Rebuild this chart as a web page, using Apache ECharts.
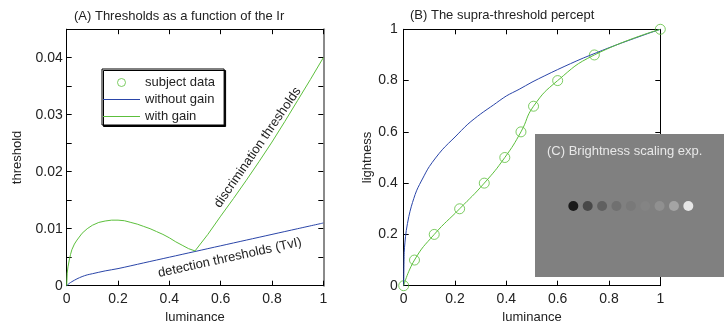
<!DOCTYPE html>
<html>
<head>
<meta charset="utf-8">
<script src="https://cdn.jsdelivr.net/npm/echarts@6/dist/echarts.min.js"></script>
<style>
  html, body { margin: 0; padding: 0; background: #fff; }
  #chart { width: 724px; height: 322px; }
</style>
</head>
<body>
<div id="chart"></div>
<script>
// (A) thresholds vs luminance
const tvlX = [0, 0.01, 0.02, 0.04, 0.06, 0.08, 0.1, 0.15, 0.2, 0.3, 0.4, 0.5, 0.6, 0.7, 0.8, 0.9, 1];
const tvlY = [0, 0.0004, 0.0007, 0.0012, 0.0016, 0.0019, 0.0021, 0.0026, 0.003, 0.004, 0.005, 0.006, 0.007, 0.008, 0.009, 0.01, 0.011];
const gainX = [0, 0.002, 0.005, 0.01, 0.015, 0.02, 0.03, 0.04, 0.06, 0.08, 0.1, 0.125, 0.15, 0.175, 0.2, 0.225, 0.25, 0.275, 0.3, 0.325, 0.35, 0.375, 0.4, 0.425, 0.45, 0.475, 0.5, 0.55, 0.6, 0.65, 0.7, 0.75, 0.8, 0.85, 0.9, 0.95, 1];
const gainY = [0, 0.0022, 0.0033, 0.0045, 0.0055, 0.0063, 0.0073, 0.008, 0.0092, 0.01, 0.0106, 0.0111, 0.01135, 0.0115, 0.0115, 0.0114, 0.0111, 0.0108, 0.0104, 0.01, 0.0095, 0.009, 0.0084, 0.0077, 0.0071, 0.0065, 0.0061, 0.009, 0.0122, 0.0153, 0.0185, 0.0218, 0.0252, 0.0288, 0.0325, 0.0362, 0.04];

// (B) lightness vs luminance
const noGainX = [0, 0.002, 0.005, 0.01, 0.02, 0.03, 0.05, 0.075, 0.1, 0.15, 0.2, 0.25, 0.3, 0.35, 0.4, 0.45, 0.5, 0.55, 0.6, 0.65, 0.7, 0.75, 0.8, 0.85, 0.9, 0.95, 1];
const noGainY = [0, 0.13, 0.17, 0.215, 0.27, 0.31, 0.37, 0.42, 0.465, 0.53, 0.58, 0.63, 0.67, 0.705, 0.74, 0.766, 0.794, 0.819, 0.843, 0.866, 0.888, 0.908, 0.928, 0.947, 0.965, 0.983, 1];
const subjectX = [0, 0.042, 0.119, 0.218, 0.314, 0.394, 0.457, 0.506, 0.6, 0.743, 1];
const subjectY = [0, 0.1, 0.2, 0.3, 0.4, 0.5, 0.6, 0.7, 0.8, 0.9, 1];

// (C) brightness scaling stimuli
const patchGrays = ["#000000", "#3a3a3a", "#575757", "#6b6b6b", "#777777", "#858585", "#939393", "#acacac", "#ffffff"];

const FONT = '"Liberation Sans", Arial, Helvetica, sans-serif';
const TEXT = "#222";
const BLUE = "#2a45a8";
const GREEN = "#5cbf3c";

const zip = (xs, ys) => xs.map((x, i) => [x, ys[i]]);

const box = (gridIndex, pos, opts) => Object.assign({
  type: "value",
  gridIndex,
  position: pos,
  min: 0,
  max: 1,
  interval: 0.2,
  axisLine: { show: true, onZero: false, lineStyle: { color: "#000", width: 1 } },
  axisTick: { show: true, inside: true, length: 5, lineStyle: { color: "#000" } },
  axisLabel: { show: false },
  splitLine: { show: false },
}, opts);

const tickLabel = (margin) => ({
  show: true, margin, color: TEXT, fontSize: 14, fontFamily: FONT,
});

const axisName = { fontSize: 13, color: TEXT, fontFamily: FONT };

const chart = echarts.init(document.getElementById("chart"), null, { renderer: "canvas" });

const option = {
  animation: false,
  backgroundColor: "#fff",
  textStyle: { fontFamily: FONT },
  title: [
    { text: "(A) Thresholds as a function of the Ir", left: 74, top: 10,
      textStyle: { fontSize: 13, fontWeight: "normal", color: TEXT, fontFamily: FONT }, padding: 0 },
    { text: "(B) The supra-threshold percept", left: 410, top: 9,
      textStyle: { fontSize: 13, fontWeight: "normal", color: TEXT, fontFamily: FONT }, padding: 0 },
    { text: "(C) Brightness scaling exp.", left: 547, top: 145, z: 5,
      textStyle: { fontSize: 13, fontWeight: "normal", color: "#e8e8e8", fontFamily: FONT }, padding: 0 },
  ],
  legend: {
    orient: "vertical",
    left: 102,
    top: 69,
    padding: [7, 9, 2, 1],
    itemWidth: 37,
    itemHeight: 8,
    itemGap: 4,
    backgroundColor: "#fff",
    borderColor: "#000",
    borderWidth: 1,
    shadowColor: "#000",
    shadowOffsetX: 1.5,
    shadowOffsetY: 1.5,
    shadowBlur: 0,
    textStyle: { fontSize: 13, lineHeight: 13, color: TEXT, fontFamily: FONT },
    selectedMode: false,
    data: [
      { name: "subject data", icon: "circle",
        itemStyle: { color: "transparent", borderColor: GREEN, borderWidth: 1 } },
      { name: "without gain", icon: "path://M0,0h37v1h-37z", itemStyle: { color: BLUE, borderWidth: 0 } },
      { name: "with gain", icon: "path://M0,0h37v1h-37z", itemStyle: { color: GREEN, borderWidth: 0 } },
    ],
  },
  grid: [
    { left: 66.7, top: 29.2, width: 256.6, height: 256.5, outerBoundsMode: "none" },
    { left: 403.7, top: 29.3, width: 256.6, height: 256.4, outerBoundsMode: "none" },
    { left: 573.3, top: 186, width: 115, height: 40, outerBoundsMode: "none" },
  ],
  xAxis: [
    box(0, "bottom", {
      axisLabel: tickLabel(6),
      name: "luminance", nameLocation: "middle", nameGap: 19, nameTextStyle: axisName,
    }),
    box(0, "top"),
    box(1, "bottom", {
      axisLabel: tickLabel(6),
      name: "luminance", nameLocation: "middle", nameGap: 19, nameTextStyle: axisName,
    }),
    box(1, "top"),
    {
      type: "category", gridIndex: 2, boundaryGap: false,
      data: patchGrays.map((g, i) => String(i)),
      axisLine: { show: false }, axisTick: { show: false }, axisLabel: { show: false },
    },
  ],
  yAxis: [
    box(0, "left", {
      max: 0.045, interval: 0.005,
      axisLabel: Object.assign(tickLabel(4), {
        formatter: (v) => {
          const h = v * 100;
          if (Math.abs(h - Math.round(h)) > 1e-6) return "";
          return v === 0 ? "0" : v.toFixed(2);
        },
      }),
      name: "threshold", nameLocation: "middle", nameGap: 43, nameTextStyle: axisName,
    }),
    box(0, "right", {
      max: 0.045, interval: 0.005,
      axisLine: { show: true, onZero: false, lineStyle: { color: "#8a8a8a", width: 2 } },
    }),
    box(1, "left", {
      axisLabel: tickLabel(6),
      name: "lightness", nameLocation: "middle", nameGap: 29, nameTextStyle: axisName,
    }),
    box(1, "right"),
    { type: "value", gridIndex: 2, min: -1, max: 1, show: false },
  ],
  graphic: [
    { id: "insetBg", type: "rect", z: 1, silent: true,
      shape: { x: 535, y: 134, width: 189, height: 143 },
      style: { fill: "#808080" } },
  ],
  series: [
    {
      name: "without gain", type: "line", xAxisIndex: 0, yAxisIndex: 0,
      data: zip(tvlX, tvlY), showSymbol: false, smooth: 0.3,
      lineStyle: { color: BLUE, width: 1 }, itemStyle: { color: BLUE },
    },
    {
      name: "with gain", type: "line", xAxisIndex: 0, yAxisIndex: 0,
      data: zip(gainX, gainY), showSymbol: false,
      lineStyle: { color: GREEN, width: 1 }, itemStyle: { color: GREEN },
    },
    {
      name: "without gain", type: "line", xAxisIndex: 2, yAxisIndex: 2,
      data: zip(noGainX, noGainY), showSymbol: false, smooth: 0.3,
      lineStyle: { color: BLUE, width: 1 }, itemStyle: { color: BLUE },
    },
    {
      name: "with gain", type: "line", xAxisIndex: 2, yAxisIndex: 2,
      data: zip(subjectX, subjectY), showSymbol: false, smooth: 0.5,
      lineStyle: { color: GREEN, width: 1 }, itemStyle: { color: GREEN },
    },
    {
      name: "subject data", type: "scatter", xAxisIndex: 2, yAxisIndex: 2,
      data: zip(subjectX, subjectY), symbol: "circle", symbolSize: 10,
      itemStyle: { color: "transparent", borderColor: GREEN, borderWidth: 1 },
    },
    {
      name: "patches", type: "scatter", xAxisIndex: 4, yAxisIndex: 4, z: 3,
      data: patchGrays.map((g, i) => ({ value: [i, 0], itemStyle: { color: g } })),
      symbol: "circle", symbolSize: 10,
    },
  ],
};

chart.setOption(option);

// curve annotations anchored in data space of panel (A)
const discPos = chart.convertToPixel({ gridIndex: 0 }, [0.744, 0.02425]);
const detPos = chart.convertToPixel({ gridIndex: 0 }, [0.636, 0.0049]);
const note = (id, pos, text, deg) => ({
  id, type: "text", z: 4, silent: true,
  x: pos[0], y: pos[1], rotation: deg * Math.PI / 180,
  style: { text, fill: TEXT, font: "13px " + FONT, align: "center", verticalAlign: "middle" },
});
chart.setOption({
  graphic: [
    note("disc", discPos, "discrimination thresholds", 55.4),
    note("det", detPos, "detection thresholds (TvI)", 12.4),
  ],
});
</script>
</body>
</html>
